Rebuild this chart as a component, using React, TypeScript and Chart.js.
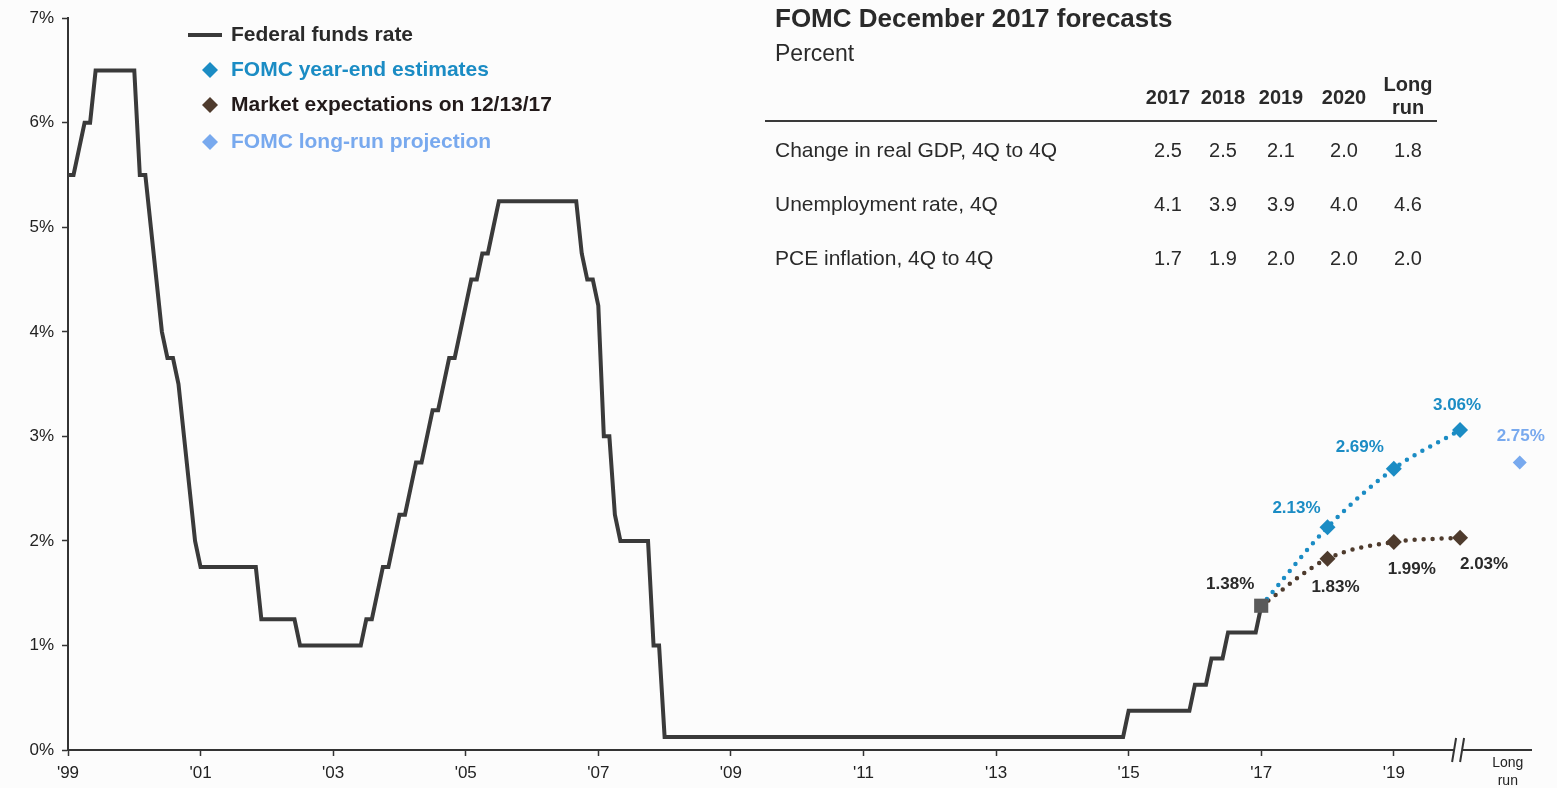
import React, { useEffect, useRef } from 'react';
import { Chart, registerables } from 'chart.js';

Chart.register(...registerables);

const FONT = "'Liberation Sans', Arial, Helvetica, sans-serif";

// ---- Data ----
// Federal funds rate: turning points, as months after the start of '99 on the chart, and the rate (%)
const fedFundsMonths = [
  0, 1, 2, 3, 4, 5, 12, 13, 14, 15, 16, 17, 18, 19, 20, 21, 22, 23, 24, 34, 35, 41, 42, 53, 54, 55, 56, 57, 58, 59,
  60, 61, 62, 63, 64, 65, 66, 67, 68, 69, 70, 71, 72, 73, 74, 75, 76, 77, 78, 92, 93, 94, 95, 96, 97, 98, 99, 100,
  105, 106, 107, 108, 191, 192, 203, 204, 206, 207, 209, 210, 215, 216,
];
const fedFundsRates = [
  5.5, 5.5, 5.75, 6.0, 6.0, 6.5, 6.5, 5.5, 5.5, 5.0, 4.5, 4.0, 3.75, 3.75, 3.5, 3.0, 2.5, 2.0, 1.75, 1.75, 1.25, 1.25,
  1.0, 1.0, 1.25, 1.25, 1.5, 1.75, 1.75, 2.0, 2.25, 2.25, 2.5, 2.75, 2.75, 3.0, 3.25, 3.25, 3.5, 3.75, 3.75, 4.0, 4.25,
  4.5, 4.5, 4.75, 4.75, 5.0, 5.25, 5.25, 4.75, 4.5, 4.5, 4.25, 3.0, 3.0, 2.25, 2.0, 2.0, 1.0, 1.0, 0.125, 0.125,
  0.375, 0.375, 0.625, 0.625, 0.875, 0.875, 1.125, 1.125, 1.375,
];
const chartStartYear = 1999;

const forecastYears = [2017, 2018, 2019, 2020];
const fomcYearEnd = [1.38, 2.13, 2.69, 3.06];
const marketExpectations = [1.38, 1.83, 1.99, 2.03];
const currentRate = 1.38;
const longRunPosition = 2020.9;
const longRunProjection = 2.75;

const xTickYears = [1999, 2001, 2003, 2005, 2007, 2009, 2011, 2013, 2015, 2017, 2019];
const xTickLabels = ["'99", "'01", "'03", "'05", "'07", "'09", "'11", "'13", "'15", "'17", "'19"];
const longRunTickPosition = 2020.72;
const longRunTickLabel = ['Long', 'run'];
const axisBreakPosition = 2019.97;
const yTickValues = [0, 1, 2, 3, 4, 5, 6, 7];

const tableTitle = 'FOMC December 2017 forecasts';
const tableSubtitle = 'Percent';
const tableColumns = ['2017', '2018', '2019', '2020', 'Long run'];
const tableRowLabels = ['Change in real GDP, 4Q to 4Q', 'Unemployment rate, 4Q', 'PCE inflation, 4Q to 4Q'];
const gdpForecast = [2.5, 2.5, 2.1, 2.0, 1.8];
const unemploymentForecast = [4.1, 3.9, 3.9, 4.0, 4.6];
const pceForecast = [1.7, 1.9, 2.0, 2.0, 2.0];

// ---- Colours ----
const C_FED = '#3a3a3a';
const C_FOMC = '#1b8cc4';
const C_MARKET = '#4e3b2d';
const C_LONG = '#78a9ee';
const C_TEXT = '#2a2a2a';
const C_BG = '#fcfcfc';

const overlayPlugin = {
  id: 'overlay',
  afterDraw(chart: any) {
    const ctx = chart.ctx as CanvasRenderingContext2D;
    const xs = chart.scales.x;
    const area = chart.chartArea;
    ctx.save();

    // axis break
    const bx = xs.getPixelForValue(axisBreakPosition);
    const by = area.bottom;
    ctx.fillStyle = C_BG;
    ctx.fillRect(bx - 4, by - 3, 8, 6);
    ctx.strokeStyle = '#333';
    ctx.lineWidth = 2;
    ctx.beginPath();
    ctx.moveTo(bx - 6, by + 12);
    ctx.lineTo(bx - 2, by - 12);
    ctx.moveTo(bx + 2, by + 12);
    ctx.lineTo(bx + 6, by - 12);
    ctx.stroke();

    // "Long run" axis label
    const lx = xs.getPixelForValue(longRunTickPosition);
    ctx.font = `14px ${FONT}`;
    ctx.fillStyle = '#222';
    ctx.textAlign = 'center';
    ctx.textBaseline = 'middle';
    ctx.fillText(longRunTickLabel[0], lx, by + 13);
    ctx.fillText(longRunTickLabel[1], lx, by + 31);

    // point labels
    const lbl = (text: string, x: number, y: number, color: string) => {
      ctx.font = `bold 17px ${FONT}`;
      ctx.fillStyle = color;
      ctx.textAlign = 'center';
      ctx.textBaseline = 'middle';
      ctx.fillText(text, x, y);
    };
    const fmt = (v: number) => `${v.toFixed(2)}%`;
    const fomcMeta = chart.getDatasetMeta(1).data;
    const fomcOff = [
      [0, 0],
      [-31, -19],
      [-34, -21],
      [-3, -25],
    ];
    for (let i = 1; i < fomcYearEnd.length; i++) {
      const p = fomcMeta[i];
      lbl(fmt(fomcYearEnd[i]), p.x + fomcOff[i][0], p.y + fomcOff[i][1], C_FOMC);
    }
    const mktMeta = chart.getDatasetMeta(2).data;
    const mktOff = [
      [0, 0],
      [8, 29],
      [18, 27],
      [24, 27],
    ];
    for (let i = 1; i < marketExpectations.length; i++) {
      const p = mktMeta[i];
      lbl(fmt(marketExpectations[i]), p.x + mktOff[i][0], p.y + mktOff[i][1], C_TEXT);
    }
    const lr = chart.getDatasetMeta(3).data[0];
    lbl(fmt(longRunProjection), lr.x + 1, lr.y - 26, C_LONG);
    const cur = chart.getDatasetMeta(4).data[0];
    lbl(fmt(currentRate), cur.x - 31, cur.y - 21, C_TEXT);

    // legend
    const legendColors = [C_TEXT, C_FOMC, '#221a1a', C_LONG];
    const markColors = [C_FED, C_FOMC, C_MARKET, C_LONG];
    const legendY = [35, 70, 105, 142];
    for (let i = 0; i < 4; i++) {
      const y = legendY[i];
      if (i === 0) {
        ctx.strokeStyle = markColors[i];
        ctx.lineWidth = 4;
        ctx.beginPath();
        ctx.moveTo(188, y);
        ctx.lineTo(222, y);
        ctx.stroke();
      } else {
        ctx.fillStyle = markColors[i];
        ctx.beginPath();
        ctx.moveTo(210, y - 8);
        ctx.lineTo(218, y);
        ctx.lineTo(210, y + 8);
        ctx.lineTo(202, y);
        ctx.closePath();
        ctx.fill();
      }
      ctx.font = `bold 21px ${FONT}`;
      ctx.fillStyle = legendColors[i];
      ctx.textAlign = 'left';
      ctx.textBaseline = 'middle';
      ctx.fillText(chart.data.datasets[i].label, 231, y);
    }

    // forecast table
    ctx.fillStyle = C_TEXT;
    ctx.textAlign = 'left';
    ctx.textBaseline = 'middle';
    ctx.font = `bold 26px ${FONT}`;
    ctx.fillText(tableTitle, 775, 20);
    ctx.font = `23px ${FONT}`;
    ctx.fillText(tableSubtitle, 775, 55);
    const colX = [1168, 1223, 1281, 1344, 1408];
    ctx.font = `bold 20px ${FONT}`;
    ctx.textAlign = 'center';
    tableColumns.forEach((c, i) => {
      if (c.includes(' ')) {
        const [a, b] = c.split(' ');
        ctx.fillText(a, colX[i], 85);
        ctx.fillText(b, colX[i], 108);
      } else {
        ctx.fillText(c, colX[i], 98);
      }
    });
    ctx.strokeStyle = '#3a3a3a';
    ctx.lineWidth = 2;
    ctx.beginPath();
    ctx.moveTo(765, 121);
    ctx.lineTo(1437, 121);
    ctx.stroke();
    const rows = [gdpForecast, unemploymentForecast, pceForecast];
    const rowY = [151, 205, 259];
    rows.forEach((vals, r) => {
      ctx.font = `21px ${FONT}`;
      ctx.textAlign = 'left';
      ctx.fillText(tableRowLabels[r], 775, rowY[r]);
      ctx.font = `20px ${FONT}`;
      ctx.textAlign = 'center';
      vals.forEach((v, i) => ctx.fillText(v.toFixed(1), colX[i], rowY[r]));
    });

    ctx.restore();
  },
};

export default function App() {
  const ref = useRef<HTMLCanvasElement>(null);
  useEffect(() => {
    const canvas = ref.current!;
    const fedData = fedFundsMonths.map((m, i) => ({ x: chartStartYear + m / 12, y: fedFundsRates[i] }));
    const fomcData = forecastYears.map((yr, i) => ({ x: yr, y: fomcYearEnd[i] }));
    const mktData = forecastYears.map((yr, i) => ({ x: yr, y: marketExpectations[i] }));
    const chart = new Chart(canvas, {
      type: 'line',
      data: {
        datasets: [
          {
            label: 'Federal funds rate',
            data: fedData,
            borderColor: C_FED,
            borderWidth: 4,
            pointRadius: 0,
            tension: 0,
            order: 5,
          },
          {
            label: 'FOMC year-end estimates',
            data: fomcData,
            borderColor: C_FOMC,
            backgroundColor: C_FOMC,
            borderWidth: 4.5,
            borderDash: [0, 9],
            borderCapStyle: 'round',
            cubicInterpolationMode: 'monotone',
            pointStyle: 'rectRot',
            pointRadius: [0, 8, 8, 8],
            pointBorderWidth: 0,
            order: 3,
          },
          {
            label: 'Market expectations on 12/13/17',
            data: mktData,
            borderColor: C_MARKET,
            backgroundColor: C_MARKET,
            borderWidth: 4.5,
            borderDash: [0, 9],
            borderCapStyle: 'round',
            cubicInterpolationMode: 'monotone',
            pointStyle: 'rectRot',
            pointRadius: [0, 8, 8, 8],
            pointBorderWidth: 0,
            order: 4,
          },
          {
            label: 'FOMC long-run projection',
            data: [{ x: longRunPosition, y: longRunProjection }],
            borderColor: C_LONG,
            backgroundColor: C_LONG,
            showLine: false,
            pointStyle: 'rectRot',
            pointRadius: 7,
            pointBorderWidth: 0,
            order: 2,
          },
          {
            label: 'Current',
            data: [{ x: forecastYears[0], y: currentRate }],
            backgroundColor: '#5a5a5a',
            borderColor: '#5a5a5a',
            showLine: false,
            pointStyle: 'rect',
            pointRadius: 10,
            pointBorderWidth: 0,
            order: 1,
          },
        ],
      },
      options: {
        responsive: false,
        devicePixelRatio: 1,
        animation: false,
        events: [],
        clip: false as any,
        layout: { padding: { left: 8, right: 26, top: 17, bottom: 0 } },
        plugins: { legend: { display: false }, tooltip: { enabled: false } },
        scales: {
          x: {
            type: 'linear',
            min: chartStartYear,
            max: 2021.07,
            afterFit: (s: any) => {
              s.height = 38;
            },
            afterBuildTicks: (s: any) => {
              s.ticks = xTickYears.map((v) => ({ value: v }));
            },
            grid: {
              drawOnChartArea: false,
              drawTicks: true,
              tickLength: 6,
              tickWidth: 1.5,
              tickColor: '#333',
            },
            border: { display: true, color: '#333', width: 2 },
            ticks: {
              autoSkip: false,
              maxRotation: 0,
              padding: 7,
              color: '#222',
              font: { family: FONT, size: 17 },
              callback: (v: any) => {
                const i = xTickYears.indexOf(v);
                return i >= 0 ? xTickLabels[i] : '';
              },
            },
          },
          y: {
            type: 'linear',
            min: 0,
            max: 7,
            afterFit: (s: any) => {
              s.width = 60;
            },
            afterBuildTicks: (s: any) => {
              s.ticks = yTickValues.map((v) => ({ value: v }));
            },
            grid: { drawOnChartArea: false, drawTicks: true, tickLength: 6, tickWidth: 1.5, tickColor: '#333' },
            border: { display: true, color: '#333', width: 2 },
            ticks: {
              padding: 8,
              color: '#222',
              font: { family: FONT, size: 17 },
              callback: (v: any) => `${v}%`,
            },
          },
        },
      },
      plugins: [overlayPlugin],
    } as any);
    return () => chart.destroy();
  }, []);
  return (
    <div style={{ position: 'fixed', left: 0, top: 0, width: 1557, height: 788, background: C_BG }}>
      <canvas ref={ref} width={1557} height={788} style={{ display: 'block', width: 1557, height: 788 }} />
    </div>
  );
}
